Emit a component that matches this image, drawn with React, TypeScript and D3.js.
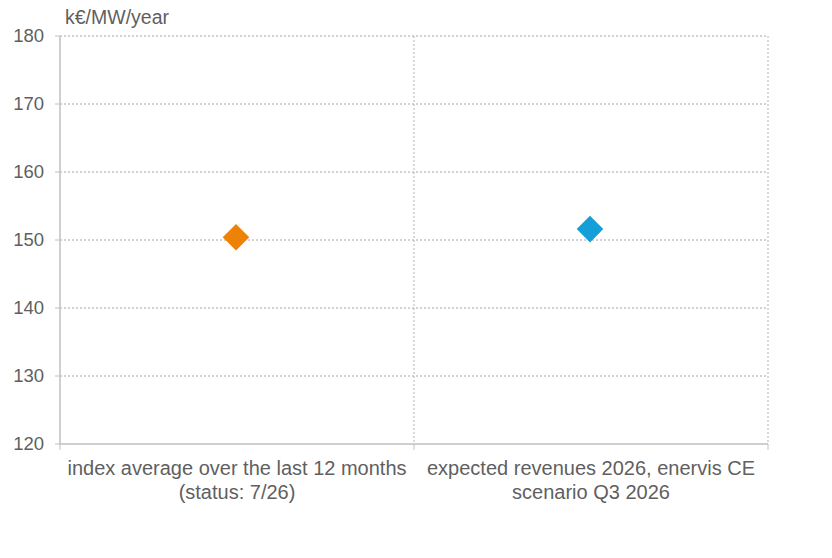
import React from "react";
import * as d3 from "d3";

const categories = [
  ["index average over the last 12 months", "(status: 7/26)"],
  ["expected revenues 2026, enervis CE", "scenario Q3 2026"],
];
const values = [150.4, 151.6];
const colors = ["#EE8204", "#149FD8"];
const yTicks = [120, 130, 140, 150, 160, 170, 180];
const unitLabel = "k€/MW/year";

export default function App() {
  const W = 832, H = 558;
  const left = 60, right = 768, top = 36, bottom = 444;
  const y = d3.scaleLinear().domain([120, 180]).range([bottom, top]);
  const x = d3.scaleBand().domain(["0", "1"]).range([left, right]).padding(0);
  const diamond = d3.symbol().type(d3.symbolDiamond2).size(450)();
  const font = "Arial, 'Liberation Sans', sans-serif";
  const textColor = "#5f5f5f";
  return (
    <svg width={W} height={H} style={{ position: "absolute", left: 0, top: 0 }} fontFamily={font}>
      <rect width={W} height={H} fill="#fff" />
      {yTicks.map((t) => (
        <g key={t}>
          {t !== 120 && (
            <line x1={left} x2={right} y1={y(t)} y2={y(t)} stroke="#a6a6a6" strokeWidth={1} strokeDasharray="2,2" />
          )}
          <line x1={left - 5} x2={left} y1={y(t)} y2={y(t)} stroke="#bfbfbf" strokeWidth={1} />
          <text x={44} y={y(t)} dy="0.35em" textAnchor="end" fontSize={18.5} fill={textColor}>{t}</text>
        </g>
      ))}
      {["1"].map((k) => (
        <line key={k} x1={x(k)!} x2={x(k)!} y1={top} y2={bottom} stroke="#b3b3b3" strokeWidth={1} strokeDasharray="2,2" />
      ))}
      <line x1={right} x2={right} y1={top} y2={bottom} stroke="#b3b3b3" strokeWidth={1} strokeDasharray="2,2" />
      <line x1={left} x2={left} y1={top} y2={bottom} stroke="#bfbfbf" strokeWidth={1.5} />
      <line x1={left} x2={right} y1={bottom} y2={bottom} stroke="#bfbfbf" strokeWidth={1.5} />
      {[left, x("1")!, right].map((px, i) => (
        <line key={i} x1={px} x2={px} y1={bottom} y2={bottom + 6} stroke="#bfbfbf" strokeWidth={1} />
      ))}
      <text x={65} y={24} fontSize={19.5} fill={textColor}>{unitLabel}</text>
      {categories.map((lines, i) => {
        const cx = x(String(i))! + x.bandwidth() / 2;
        return (
          <text key={i} x={cx} textAnchor="middle" fontSize={20} fill={textColor}>
            {lines.map((l, j) => (
              <tspan key={j} x={cx} y={475 + j * 24}>{l}</tspan>
            ))}
          </text>
        );
      })}
      {values.map((v, i) => {
        const cx = x(String(i))! + x.bandwidth() / 2;
        return <path key={i} d={diamond!} transform={`translate(${cx - 1},${y(v)})`} fill={colors[i]} />;
      })}
    </svg>
  );
}
